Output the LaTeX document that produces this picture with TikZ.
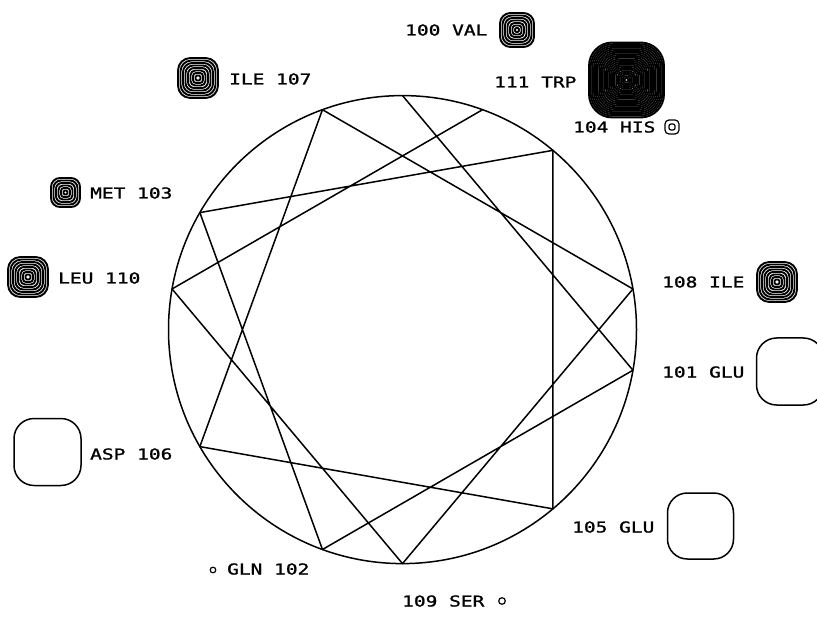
\documentclass[tikz,border=0pt]{standalone}
\usepackage{fontspec}
\newfontfamily\plotfont[FakeStretch=1.3,FakeBold=1.2]{DejaVu Sans Mono}
\tikzset{
  wheel/.style={line width=1.5pt},
  lab/.style={font=\plotfont\fontsize{15}{15}\selectfont, anchor=base west, inner sep=0pt},
  ringline/.style={line width=1.9pt},
  openbox/.style={line width=1.5pt},
  tinyring/.style={line width=1.2pt}
}
\newcommand\hsym[4]{%
  \pgfmathtruncatemacro\nring{floor((#3-1)/#4)}%
  \foreach \i in {0,...,\nring}{%
    \pgfmathsetmacro\rr{#3-\i*#4}%
    \pgfmathsetmacro\crad{0.62*\rr}%
    \draw[ringline, rounded corners=\crad pt] (#1-\rr,#2-\rr) rectangle (#1+\rr,#2+\rr);
  }%
}
\newcommand\obox[3]{%
  \pgfmathsetmacro\crad{0.6*#3}%
  \draw[openbox, rounded corners=\crad pt] (#1-#3,#2-#3) rectangle (#1+#3,#2+#3);
}
\begin{document}
\begin{tikzpicture}[x=1pt,y=-1pt]
\useasboundingbox (0,0) rectangle (817,628);
\clip (0,0) rectangle (817,628);
% wheel
\coordinate (c) at (402.5,329.6);
\draw[wheel] (c) circle[radius=234];
\foreach \n/\a in {100/0,101/100,102/200,103/300,104/40,105/140,106/240,107/340,108/80,109/180,110/280,111/20}{
  \coordinate (r\n) at ({402.5+234*sin(\a)},{329.6-234*cos(\a)});
}
\draw[wheel, line join=round] (r100) -- (r101) -- (r102) -- (r103) -- (r104) -- (r105) -- (r106) -- (r107) -- (r108) -- (r109) -- (r110) -- (r111);
% labels
\node[lab] (l100) at (405,35.5) {100 VAL};
\node[lab] (l111) at (494,87.5) {111 TRP};
\node[lab] (l104) at (573,132.5) {104 HIS};
\node[lab] (l107) at (229,84.5) {ILE 107};
\node[lab] (l103) at (90,198.5) {MET 103};
\node[lab] (l110) at (58,283.5) {LEU 110};
\node[lab] (l108) at (662,287.5) {108 ILE};
\node[lab] (l101) at (662,377.5) {101 GLU};
\node[lab] (l106) at (90,459.5) {ASP 106};
\node[lab] (l105) at (572,532.5) {105 GLU};
\node[lab] (l102) at (227,574.5) {GLN 102};
\node[lab] (l109) at (402,606.5) {109 SER};
% hydrophobic symbols
\hsym{517}{30}{17}{2.5}
\hsym{626.5}{80}{37.5}{1.7}
\hsym{198}{78}{20}{2.5}
\hsym{65.5}{192.5}{14.5}{2.5}
\hsym{28}{277}{20}{2.5}
\hsym{777}{282}{20}{2.5}
% his
\draw[tinyring, rounded corners=4pt] (665,120) rectangle (679,134);
\draw[tinyring, rounded corners=2pt] (669,124) rectangle (675,130);
% hydrophilic symbols
\obox{790}{371.5}{33.5}
\obox{47.5}{452}{33.5}
\obox{700.5}{526}{33}
% small
\draw[tinyring] (213,570) circle[radius=2.8];
\draw[tinyring] (502,601) circle[radius=3.3];
\end{tikzpicture}
\end{document}
